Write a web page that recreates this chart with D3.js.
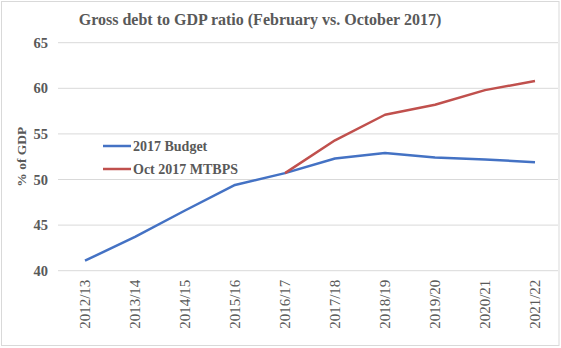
<!DOCTYPE html>
<html>
<head>
<meta charset="utf-8">
<script src="https://cdn.jsdelivr.net/npm/d3@7"></script>
<style>
  body { margin: 0; background: #fff; }
  text { font-family: "Liberation Serif", "DejaVu Serif", serif; fill: #595959; font-weight: bold; }
</style>
</head>
<body>
<script>
var width = 561;
var height = 348;

// data
var years = ["2012/13", "2013/14", "2014/15", "2015/16", "2016/17",
             "2017/18", "2018/19", "2019/20", "2020/21", "2021/22"];
var budget2017 = [41.1, 43.7, 46.6, 49.4, 50.7, 52.3, 52.9, 52.4, 52.2, 51.9];
var mtbps2017 = [null, null, null, null, 50.7, 54.3, 57.1, 58.2, 59.8, 60.8];
var yTicks = [40, 45, 50, 55, 60, 65];
var seriesNames = ["2017 Budget", "Oct 2017 MTBPS"];
var seriesColors = ["#4472C4", "#C0504D"];

var plot = {left: 60, right: 560, top: 42.7, bottom: 270.7};

var svg = d3.select("body").append("svg")
  .attr("width", width)
  .attr("height", height);

// chart border
svg.append("rect")
  .attr("x", 1.5).attr("y", 1.5)
  .attr("width", 557.5).attr("height", 344)
  .attr("fill", "none")
  .attr("stroke", "#d9d9d9")
  .attr("stroke-width", 1);

var x = d3.scaleBand()
  .domain(years)
  .range([plot.left, plot.right]);

var y = d3.scaleLinear()
  .domain([40, 65])
  .range([plot.bottom, plot.top]);

// gridlines
svg.selectAll(".grid")
  .data(yTicks)
  .enter()
  .append("line")
  .attr("x1", plot.left - 2)
  .attr("x2", plot.right - 2)
  .attr("y1", function(d) { return y(d); })
  .attr("y2", function(d) { return y(d); })
  .attr("stroke", "#d9d9d9")
  .attr("stroke-width", 1);

// y axis labels
var yAxis = svg.append("g")
  .attr("transform", "translate(" + (plot.left - 12) + ",0)")
  .call(d3.axisLeft(y).tickValues(yTicks).tickSize(0).tickPadding(0));
yAxis.select(".domain").remove();
yAxis.selectAll("text")
  .style("font-size", "14.5px")
  .style("font-family", null)
  .attr("fill", null);

svg.append("text")
  .attr("transform", "translate(26," + ((plot.top + plot.bottom) / 2) + ") rotate(-90)")
  .attr("text-anchor", "middle")
  .style("font-size", "13.5px")
  .text("% of GDP");

// x axis labels
var xAxis = svg.append("g")
  .attr("transform", "translate(0," + plot.bottom + ")")
  .call(d3.axisBottom(x).tickSize(0).tickPadding(0));
xAxis.select(".domain").remove();
xAxis.selectAll("text")
  .style("font-size", "15px")
  .style("font-family", null)
  .style("font-weight", "normal")
  .attr("fill", null)
  .attr("transform", "rotate(-90)")
  .attr("text-anchor", "end")
  .attr("x", -9)
  .attr("y", 0)
  .attr("dy", "0.35em");

// lines
var line = d3.line()
  .defined(function(d) { return d != null; })
  .x(function(d, i) { return x(years[i]) + x.bandwidth() / 2; })
  .y(function(d) { return y(d); });

[budget2017, mtbps2017].forEach(function(s, k) {
  svg.append("path")
    .datum(s)
    .attr("fill", "none")
    .attr("stroke", seriesColors[k])
    .attr("stroke-width", 2.5)
    .attr("stroke-linejoin", "round")
    .attr("d", line);
});

// legend
var legend = svg.selectAll(".legend")
  .data(seriesNames)
  .enter()
  .append("g")
  .attr("transform", function(d, i) { return "translate(103," + (146 + i * 23) + ")"; });
legend.append("line")
  .attr("x1", 0).attr("x2", 28)
  .attr("stroke", function(d, i) { return seriesColors[i]; })
  .attr("stroke-width", 2.5);
legend.append("text")
  .attr("x", 30)
  .attr("dy", "0.35em")
  .style("font-size", "14px")
  .text(function(d) { return d; });

// title
svg.append("text")
  .attr("x", 260)
  .attr("y", 25)
  .attr("text-anchor", "middle")
  .style("font-size", "16px")
  .text("Gross debt to GDP ratio (February vs. October 2017)");
</script>
</body>
</html>
